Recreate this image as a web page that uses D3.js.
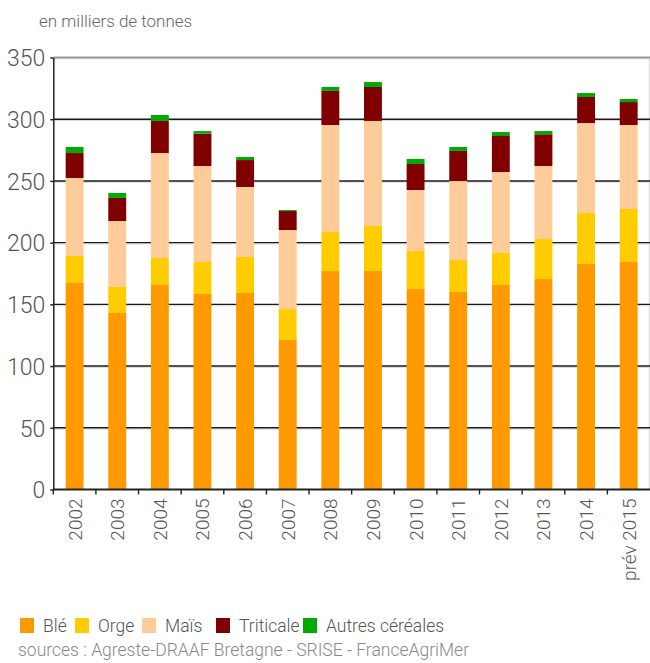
<!DOCTYPE html>
<html><head><meta charset="utf-8">
<script src="https://cdn.jsdelivr.net/npm/d3@7/dist/d3.min.js"></script>
<style>
body{margin:0;background:#fff;}
text{font-family:Roboto,"Open Sans",sans-serif;font-weight:300;}
</style></head>
<body>
<svg id="chart" width="650" height="663"></svg>
<script>
const years = ["2002","2003","2004","2005","2006","2007","2008","2009","2010","2011","2012","2013","2014","prév 2015"];
const ble       = [167.3,143.0,165.7,158.4,159.2,121.1,177.0,177.0,162.4,160.0,165.7,170.5,182.7,184.3];
const orge      = [21.9,21.1,21.9,25.9,29.2,25.1,31.6,36.5,30.8,25.9,25.9,32.4,41.3,43.0];
const mais      = [63.2,53.4,85.0,77.8,56.7,64.0,86.7,85.1,49.4,64.0,65.6,59.2,72.9,68.0];
const triticale = [20.2,18.7,26.0,26.2,21.8,15.4,27.6,27.5,21.1,24.4,29.2,25.7,21.1,18.6];
const autres    = [4.9,4.0,4.8,2.1,2.5,0.8,3.2,4.0,4.1,3.2,3.2,2.6,3.2,2.5];
const seriesNames = ["Blé","Orge","Maïs","Triticale","Autres céréales"];
const seriesColors = ["#FF9900","#FFCC00","#FFCC99","#800000","#00AA00"];
const yTicks = [0,50,100,150,200,250,300,350];

const svg = d3.select("#chart");
const L = 53.3, R = 650, T = 57.5, B = 489.5;

const table = years.map((y,i)=>({year:y, "Blé":ble[i], "Orge":orge[i], "Maïs":mais[i], "Triticale":triticale[i], "Autres céréales":autres[i]}));
const stack = d3.stack().keys(seriesNames)(table);

const x = d3.scaleBand().domain(years).range([L,R]).paddingInner(0.58).paddingOuter(0.29);
const y = d3.scaleLinear().domain([0,350]).range([B,T]);

// right border
svg.append("line").attr("x1",649.5).attr("x2",649.5).attr("y1",T).attr("y2",B).attr("stroke","#ddd").attr("stroke-width",1.5);

// gridlines
yTicks.filter(t=>t>0).forEach(t=>{
  const yy = y(t);
  svg.append("line").attr("x1",L).attr("x2",R).attr("y1",yy+1.3).attr("y2",yy+1.3).attr("stroke","#d8d8d8").attr("stroke-width",1);
  svg.append("line").attr("x1",L).attr("x2",R).attr("y1",yy).attr("y2",yy)
    .attr("stroke", t===350 ? "#999" : "#1a1a1a").attr("stroke-width", t===350 ? 2 : 1.4);
});

// bars
svg.append("g").selectAll("g").data(stack).join("g")
  .attr("fill",(d,i)=>seriesColors[i])
  .selectAll("rect").data(d=>d).join("rect")
  .attr("x",d=>x(d.data.year))
  .attr("width",x.bandwidth())
  .attr("y",d=>y(d[1]))
  .attr("height",d=>y(d[0])-y(d[1]));

// y axis
const yAxis = d3.axisLeft(y).tickValues(yTicks).tickSize(3).tickSizeOuter(0).tickPadding(5);
const gy = svg.append("g").attr("transform",`translate(${L},0)`).call(yAxis);
gy.select(".domain").attr("stroke","#222").attr("stroke-width",1.5);
gy.selectAll(".tick line").attr("stroke","#222").attr("stroke-width",1.5);
gy.selectAll(".tick text").attr("fill","#555").style("font-size","23px").attr("dy","0.36em");

// x axis
const gx = svg.append("g").attr("transform",`translate(0,${B})`);
gx.append("line").attr("x1",L).attr("x2",R).attr("stroke","#222").attr("stroke-width",1.8);
const step = x.step();
years.forEach((yr,i)=>{
  const bx = x(yr) - step*0.29;
  gx.append("line").attr("x1",bx).attr("x2",bx).attr("y1",0).attr("y2",5).attr("stroke","#222").attr("stroke-width",1.4);
});
gx.selectAll("text.xl").data(years).join("text").attr("class","xl")
  .attr("transform",d=>`translate(${x(d)+x.bandwidth()/2+7},9) rotate(-90)`)
  .attr("text-anchor","end")
  .attr("fill","#555")
  .style("font-size","19px")
  .text(d=>d);

// title
svg.append("text").attr("x",39).attr("y",27).attr("fill","#666").style("font-size","17px").text("en milliers de tonnes");

// legend
const legX = [20,75,142,216,303];
const lg = svg.append("g").attr("transform","translate(0,618)");
seriesNames.forEach((n,i)=>{
  lg.append("rect").attr("x",legX[i]).attr("y",0).attr("width",14).attr("height",15).attr("fill",seriesColors[i]);
  lg.append("text").attr("x",legX[i]+23).attr("y",14).attr("fill","#555").style("font-size","17.5px").text(n);
});

svg.append("text").attr("x",18).attr("y",656).attr("fill","#888").style("font-size","17.5px")
  .text("sources : Agreste-DRAAF Bretagne - SRISE - FranceAgriMer");
</script>
</body></html>
